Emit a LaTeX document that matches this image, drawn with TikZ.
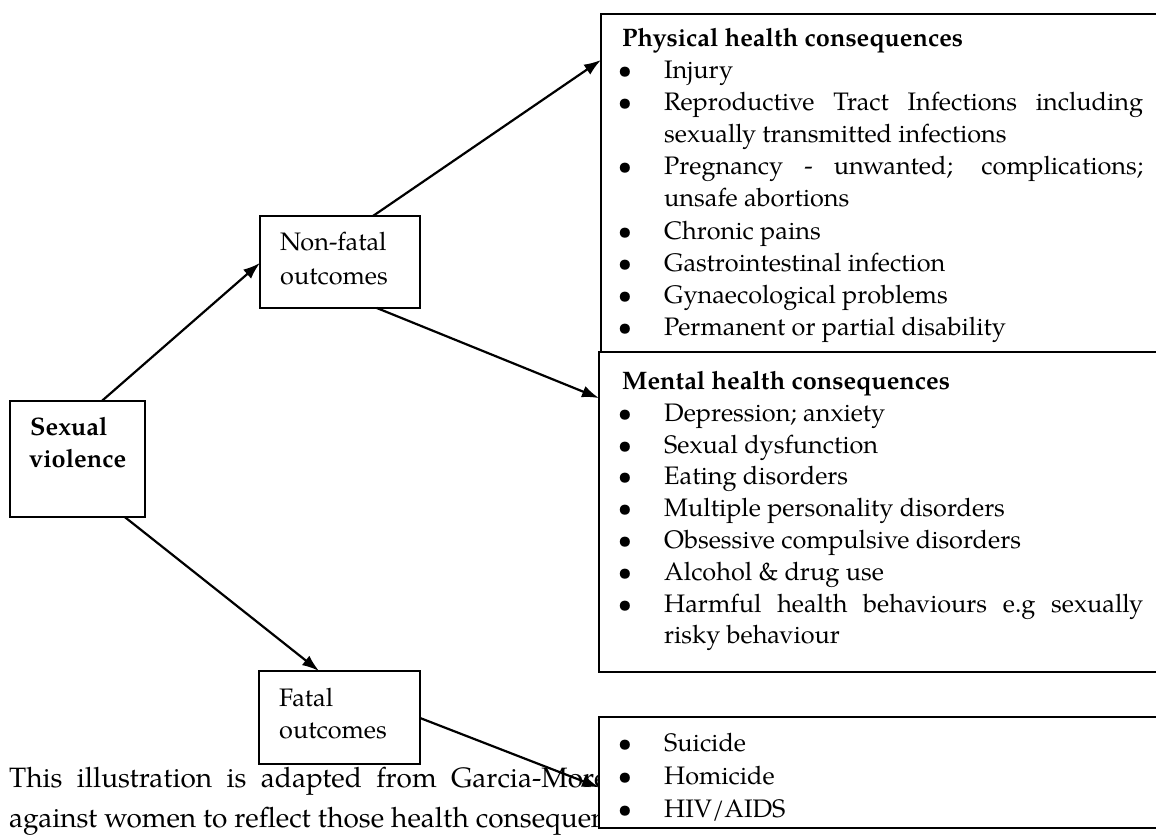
\documentclass[tikz,border=0pt]{standalone}
\usepackage{fontspec}
\setmainfont{texgyrepagella}[Extension=.otf,UprightFont=*-regular,BoldFont=*-bold,ItalicFont=*-italic,BoldItalicFont=*-bolditalic]
\usetikzlibrary{arrows.meta,calc}
\begin{document}
\begin{tikzpicture}[x=1pt,y=-1pt,
  font=\fontsize{25.3}{30}\selectfont,
  box/.style={draw,line width=2.2pt,fill=white,inner sep=0pt,outer sep=0pt,anchor=north west},
  arr/.style={-{Latex[length=17pt,width=12pt]},line width=2.2pt},
  txt/.style={anchor=base west,inner sep=0pt},
  hdr/.style={txt,font=\fontsize{25.3}{30}\selectfont\bfseries},
  body/.style={txt,font=\fontsize{28}{34}\selectfont},
  bul/.style={anchor=base,inner sep=0pt}]
\useasboundingbox (0,0) rectangle (1156,837);
\clip (0,0) rectangle (1156,837);
\fill[white] (0,0) rectangle (1156,837);
% body text behind the boxes
\node[body] (body1) at (9,787) {\makebox[585pt][s]{This illustration is adapted from Garcia-Mor}e};
\node[body] (body2) at (9,827) {against women to reflect those health consequen};
% boxes
\node[box,minimum width=135pt,minimum height=116pt] (sv) at (10,401) {};
\node[box,minimum width=160pt,minimum height=92pt] (nf) at (260,216) {};
\node[box,minimum width=161pt,minimum height=93pt] (fo) at (259,671) {};
\node[box,minimum width=580pt,minimum height=338pt] (phys) at (601,14) {};
\node[box,minimum width=582pt,minimum height=320pt] (ment) at (599,352) {};
\node[box,minimum width=582pt,minimum height=111pt] (fc) at (599,717) {};
% small box texts
\node[hdr] (sv1) at (30,435) {Sexual};
\node[hdr] (sv2) at (29,467) {violence};
\node[txt] (nf1) at (280,251) {Non-fatal};
\node[txt] (nf2) at (280,284) {outcomes};
\node[txt] (fo1) at (279,706) {Fatal};
\node[txt] (fo2) at (279,738) {outcomes};
% physical
\node[hdr] (ph0) at (622,47) {Physical health consequences};
\node[bul] (pb1) at (625,79) {•};  \node[txt] (ph1) at (664,79) {Injury};
\node[bul] (pb2) at (625,111) {•}; \node[txt] (ph2) at (664,111) {\makebox[479pt][s]{Reproductive Tract Infections including}};
\node[txt] (ph3) at (664,143) {sexually transmitted infections};
\node[bul] (pb4) at (625,175) {•}; \node[txt] (ph4) at (664,175) {\makebox[479pt][s]{Pregnancy - unwanted; complications;}};
\node[txt] (ph5) at (664,207) {unsafe abortions};
\node[bul] (pb6) at (625,239) {•}; \node[txt] (ph6) at (664,239) {Chronic pains};
\node[bul] (pb7) at (625,271) {•}; \node[txt] (ph7) at (664,271) {Gastrointestinal infection};
\node[bul] (pb8) at (625,303) {•}; \node[txt] (ph8) at (664,303) {Gynaecological problems};
\node[bul] (pb9) at (625,335) {•}; \node[txt] (ph9) at (664,335) {Permanent or partial disability};
% mental
\node[hdr] (me0) at (622,389) {Mental health consequences};
\node[bul] (mb1) at (625,421) {•}; \node[txt] (me1) at (664,421) {Depression; anxiety};
\node[bul] (mb2) at (625,453) {•}; \node[txt] (me2) at (664,453) {Sexual dysfunction};
\node[bul] (mb3) at (625,484) {•}; \node[txt] (me3) at (664,484) {Eating disorders};
\node[bul] (mb4) at (625,516) {•}; \node[txt] (me4) at (664,516) {Multiple personality disorders};
\node[bul] (mb5) at (625,548) {•}; \node[txt] (me5) at (664,548) {Obsessive compulsive disorders};
\node[bul] (mb6) at (625,580) {•}; \node[txt] (me6) at (664,580) {Alcohol \& drug use};
\node[bul] (mb7) at (625,612) {•}; \node[txt] (me7) at (664,612) {\makebox[479pt][s]{Harmful health behaviours e.g sexually}};
\node[txt] (me8) at (664,643) {risky behaviour};
% fatal consequences
\node[bul] (fb1) at (625,751) {•}; \node[txt] (fc1) at (664,751) {Suicide};
\node[bul] (fb2) at (625,784) {•}; \node[txt] (fc2) at (664,784) {Homicide};
\node[bul] (fb3) at (625,817) {•}; \node[txt] (fc3) at (664,817) {HIV/AIDS};
% connectors
\draw[arr] ($(sv.north west)!0.68!(sv.north east)$) -- ($(nf.north west)!0.51!(nf.south west)$);
\draw[arr] ($(nf.north west)!0.706!(nf.north east)$) -- ($(phys.north west)!0.136!(phys.south west)$);
\draw[arr] ($(nf.south west)!0.73!(nf.south east)$) -- ($(ment.north west)!0.144!(ment.south west)$);
\draw[arr] ($(sv.south west)!0.85!(sv.south east)$) -- ($(fo.north west)!0.373!(fo.north east)$);
\draw[arr] ($(fo.north east)!0.505!(fo.south east)$) -- ($(fc.north west)!0.634!(fc.south west)$);
\end{tikzpicture}
\end{document}
